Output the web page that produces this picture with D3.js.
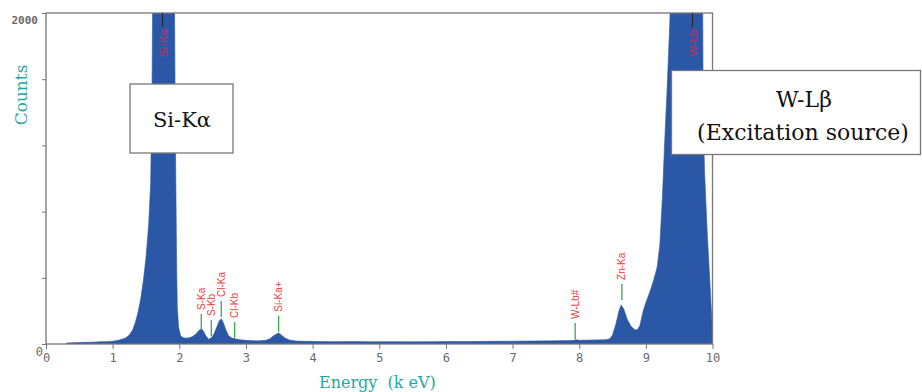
<!DOCTYPE html>
<html>
<head>
<meta charset="utf-8">
<script src="https://cdn.jsdelivr.net/npm/d3@7"></script>
<style>
  body { margin: 0; background: #fff; }
  svg { display: block; }
</style>
</head>
<body>
<svg id="chart" width="922" height="392"></svg>
<script>
// spectrum (keV, counts)
const energy = [0.30, 0.31, 0.40, 0.50, 0.60, 0.70, 0.80, 0.90, 1.00, 1.05, 1.10, 1.15, 1.20, 1.25, 1.30, 1.34, 1.38, 1.42, 1.46, 1.50,
  1.54, 1.57, 1.59, 1.61, 1.66, 1.74, 1.84, 1.92, 1.94, 1.95, 1.96, 1.97, 1.99, 2.02, 2.06, 2.10, 2.15, 2.20, 2.25, 2.29,
  2.33, 2.36, 2.40, 2.44, 2.48, 2.52, 2.56, 2.60, 2.63, 2.66, 2.70, 2.74, 2.79, 2.85, 2.92, 3.00, 3.10, 3.20, 3.30, 3.36,
  3.41, 3.46, 3.49, 3.53, 3.58, 3.65, 3.75, 3.90, 4.10, 4.30, 4.60, 4.90, 5.20, 5.50, 5.80, 6.10, 6.40, 6.70, 7.00, 7.30,
  7.60, 7.90, 7.95, 8.00, 8.20, 8.40, 8.46, 8.50, 8.55, 8.60, 8.63, 8.67, 8.72, 8.78, 8.83, 8.87, 8.91, 8.96, 9.00, 9.07,
  9.12, 9.17, 9.21, 9.25, 9.28, 9.32, 9.36, 9.39, 9.50, 9.68, 9.80, 9.85, 9.86, 9.88, 9.92, 9.96, 9.99, 10.00];
const counts = [0, 6, 8, 9, 10, 11, 13, 14, 17, 20, 24, 30, 38, 55, 85, 130, 190, 270, 380, 520,
  720, 970, 1500, 2600, 5000, 8000, 5000, 2600, 1300, 900, 470, 220, 100, 48, 38, 35, 38, 45, 60, 80,
  92, 80, 48, 28, 38, 60, 100, 140, 152, 130, 85, 50, 36, 30, 25, 22, 20, 19, 22, 32,
  48, 60, 66, 55, 38, 24, 18, 16, 15, 14, 15, 13, 14, 13, 14, 15, 15, 16, 17, 18,
  19, 21, 26, 22, 24, 26, 32, 55, 120, 205, 236, 210, 150, 105, 88, 84, 110, 200, 250, 326,
  390, 465, 600, 900, 1200, 1550, 1950, 2500, 5000, 8000, 4500, 2300, 1400, 1050, 680, 380, 150, 90];

// peak markers
const peakNames = ["S-Ka", "S-Kb", "Cl-Ka", "Cl-Kb", "Si-Ka+", "W-Lb#", "Zn-Ka"];
const peakEnergy = [2.33, 2.48, 2.63, 2.83, 3.49, 7.94, 8.64];
const peakBase = [85, 48, 163, 36, 74, 30, 266];
const topNames = ["Si-Ka", "W-Lb"];
const topEnergy = [1.75, 9.70];

const xTicks = [0, 1, 2, 3, 4, 5, 6, 7, 8, 9, 10];
const yTicks = [0, 400, 800, 1200, 1600, 2000];
const yLabels = [0, 2000];

const svg = d3.select("#chart");
const x = d3.scaleLinear().domain([0, 10]).range([46, 712.5]);
const y = d3.scaleLinear().domain([0, 2000]).range([344, 13]);

svg.append("clipPath").attr("id", "plot")
  .append("rect")
  .attr("x", x(0)).attr("y", y(2000))
  .attr("width", x(10) - x(0)).attr("height", y(0) - y(2000));

const data = energy.map((e, i) => ({ e: e, c: counts[i] }));

const area = d3.area()
  .x(d => x(d.e))
  .y0(y(0))
  .y1(d => y(d.c));

svg.append("path")
  .datum(data)
  .attr("clip-path", "url(#plot)")
  .attr("fill", "#2b58a6")
  .attr("stroke", "#2b58a6")
  .attr("stroke-width", 0.6)
  .attr("d", area);

// axes
const gx = svg.append("g")
  .attr("transform", "translate(0," + y(0) + ")")
  .call(d3.axisBottom(x).tickValues(xTicks).tickSize(5).tickSizeOuter(0).tickPadding(4));
gx.select(".domain").remove();
gx.selectAll("line").attr("stroke", "#777");
gx.selectAll("text")
  .attr("fill", "#6a6a6a")
  .style("font-family", "DejaVu Sans Mono, monospace")
  .style("font-size", "12px");

const gy = svg.append("g")
  .attr("transform", "translate(" + x(0) + ",0)")
  .call(d3.axisLeft(y).tickValues(yTicks).tickSize(4).tickSizeOuter(0)
    .tickFormat(d => yLabels.includes(d) ? d : ""));
gy.select(".domain").remove();
gy.selectAll("line").attr("stroke", "#777");
gy.selectAll("text")
  .attr("fill", "#6a6a6a")
  .attr("dy", "0.95em")
  .attr("x", d => d === 2000 ? -8 : -3)
  .style("font-family", "DejaVu Sans Mono, monospace")
  .style("font-size", d => d === 2000 ? "11px" : "12px")
  .style("font-weight", d => d === 2000 ? "bold" : "normal");

// frame
svg.append("rect")
  .attr("x", x(0)).attr("y", y(2000))
  .attr("width", x(10) - x(0)).attr("height", y(0) - y(2000))
  .attr("fill", "none")
  .attr("stroke", "#777")
  .attr("stroke-width", 1.3);

// small peak markers above the spectrum
const marks = svg.append("g");
peakNames.forEach((name, i) => {
  const px = x(peakEnergy[i]);
  const base = y(peakBase[i]);
  marks.append("line")
    .attr("x1", px).attr("x2", px)
    .attr("y1", base).attr("y2", base - 16)
    .attr("stroke", "#3aa655").attr("stroke-width", 1.3);
  marks.append("text")
    .attr("transform", "translate(" + px + "," + (base - 20) + ") rotate(-90)")
    .attr("dy", "0.35em")
    .attr("fill", "#f03a3a")
    .style("font-family", "Liberation Sans, Arial, sans-serif")
    .style("font-size", "10px")
    .text(name);
});

// markers for the clipped peaks
topNames.forEach((name, i) => {
  const px = x(topEnergy[i]);
  marks.append("line")
    .attr("x1", px).attr("x2", px)
    .attr("y1", y(2000)).attr("y2", y(2000) + 14)
    .attr("stroke", "#222").attr("stroke-width", 1);
  marks.append("text")
    .attr("transform", "translate(" + px + "," + (y(2000) + 16) + ") rotate(-90)")
    .attr("dy", "0.35em")
    .attr("text-anchor", "end")
    .attr("fill", "#d0285a")
    .style("font-family", "Liberation Sans, Arial, sans-serif")
    .style("font-size", "11.5px")
    .text(name);
});

// axis titles
svg.append("text")
  .attr("transform", "translate(27,95) rotate(-90)")
  .attr("text-anchor", "middle")
  .attr("fill", "#1fa8a2")
  .style("font-family", "DejaVu Serif, serif")
  .style("font-size", "17px")
  .text("Counts");

svg.append("text")
  .attr("x", 319).attr("y", 388)
  .attr("fill", "#1fa8a2")
  .style("font-family", "DejaVu Serif, serif")
  .style("font-size", "16px")
  .style("white-space", "pre")
  .text("Energy  (k eV)");

// call-out boxes
svg.append("rect")
  .attr("x", 130).attr("y", 84).attr("width", 103).attr("height", 69)
  .attr("fill", "#fff").attr("stroke", "#777").attr("stroke-width", 1.3);
svg.append("text")
  .attr("x", 182).attr("y", 127)
  .attr("text-anchor", "middle")
  .attr("fill", "#111")
  .style("font-family", "DejaVu Serif, serif")
  .style("font-size", "21px")
  .text("Si-Kα");

svg.append("rect")
  .attr("x", 671.5).attr("y", 70.5).attr("width", 249).attr("height", 84)
  .attr("fill", "#fff").attr("stroke", "#777").attr("stroke-width", 1.3);
const wb = svg.append("text")
  .attr("text-anchor", "middle")
  .attr("fill", "#111")
  .style("font-family", "DejaVu Serif, serif")
  .style("font-size", "22px");
wb.append("tspan").attr("x", 804).attr("y", 107).text("W-Lβ");
wb.append("tspan").attr("x", 803).attr("y", 140).text("(Excitation source)");
</script>
</body>
</html>
